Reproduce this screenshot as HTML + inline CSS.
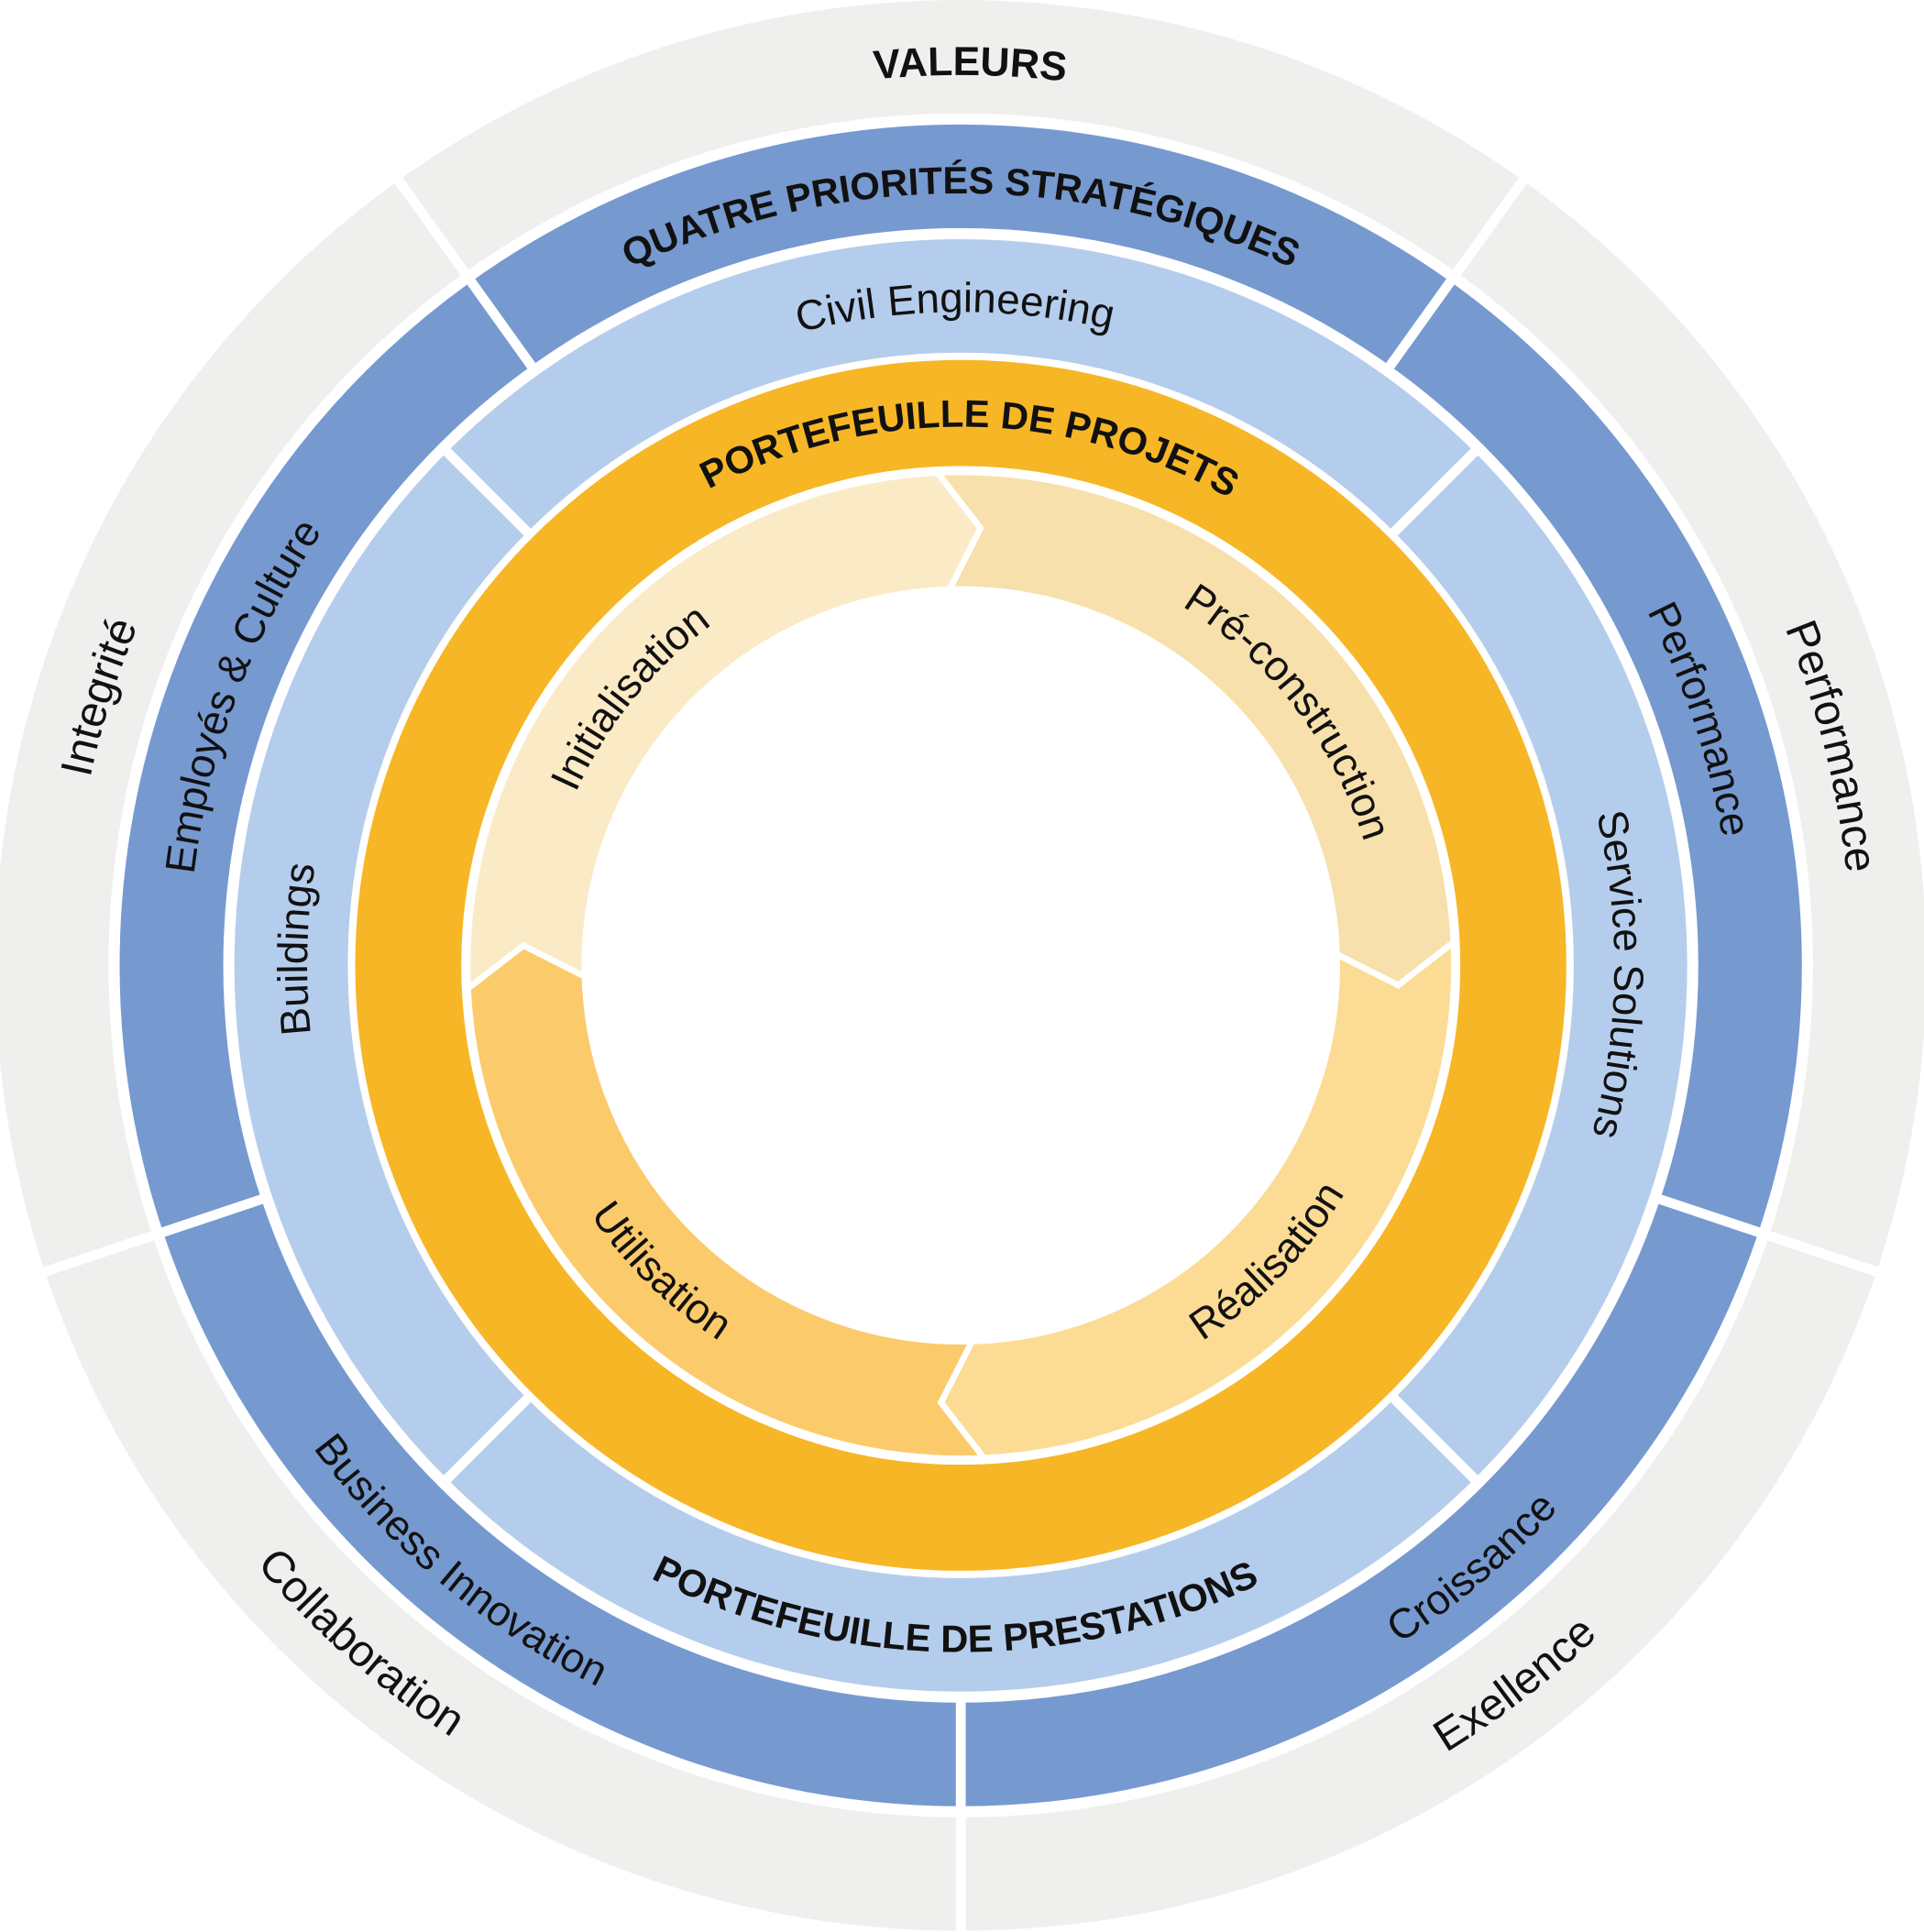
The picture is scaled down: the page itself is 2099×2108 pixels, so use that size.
<!DOCTYPE html>
<html><head><meta charset="utf-8"><style>
html,body{margin:0;padding:0;background:#fff}
svg{display:block}
text{font-family:"Liberation Sans",sans-serif;fill:#111}
.b{font-weight:bold;font-size:31px}
.r{font-size:34px}
</style></head><body>
<svg width="2099" height="2108" viewBox="0 0 1560 1567" preserveAspectRatio="none" xmlns="http://www.w3.org/2000/svg">
<defs>
<path id="t722" d="M100.5,536.1 A722 722 0 0 1 1457.5,536.1"/>
<path id="t626" d="M190.7,568.9 A626 626 0 0 1 1367.3,568.9"/>
<path id="t530" d="M281,601.7 A530 530 0 0 1 1277,601.7"/>
<path id="t437" d="M368.4,633.5 A437 437 0 0 1 1189.6,633.5"/>
<path id="t342" d="M457.6,666 A342 342 0 0 1 1100.4,666"/>
<path id="b750" d="M74.2,1039.5 A750 750 0 0 0 1483.8,1039.5"/>
<path id="b655" d="M163.5,1007 A655 655 0 0 0 1394.5,1007"/>
<path id="b557" d="M255.6,973.5 A557 557 0 0 0 1302.4,973.5"/>
<path id="b362" d="M438.8,906.8 A362 362 0 0 0 1119.2,906.8"/>
</defs>
<circle cx="779" cy="783" r="737" fill="none" stroke="#efefed" stroke-width="92"/>
<circle cx="779" cy="783" r="640" fill="none" stroke="#7699d0" stroke-width="84"/>
<circle cx="779" cy="783" r="543" fill="none" stroke="#b5cdec" stroke-width="92"/>
<circle cx="779" cy="783" r="448" fill="none" stroke="#f7b626" stroke-width="86"/>
<g stroke="#fff" stroke-width="8">
<line x1="779" y1="190" x2="779" y2="-10" transform="rotate(35.6 779 783)"/>
<line x1="779" y1="190" x2="779" y2="-10" transform="rotate(-35.6 779 783)"/>
<line x1="779" y1="190" x2="779" y2="-10" transform="rotate(108.5 779 783)"/>
<line x1="779" y1="190" x2="779" y2="-10" transform="rotate(251.5 779 783)"/>
<line x1="779" y1="190" x2="779" y2="-10" transform="rotate(180 779 783)"/>
<line x1="779" y1="290" x2="779" y2="190" transform="rotate(45 779 783)"/>
<line x1="779" y1="290" x2="779" y2="190" transform="rotate(135 779 783)"/>
<line x1="779" y1="290" x2="779" y2="190" transform="rotate(225 779 783)"/>
<line x1="779" y1="290" x2="779" y2="190" transform="rotate(315 779 783)"/>
</g>
<g stroke="#fff" stroke-width="5" stroke-linejoin="miter">
<path fill="#fbeac6" d="M379.4,801.8 A400 400 0 0 1 760.2,383.4 L795.1,428.4 L769.9,478.1 A305 305 0 0 0 474.1,792.1 L424.4,766.9 Z"/>
<path fill="#f7e0ab" d="M760.2,383.4 A400 400 0 0 1 1178.6,764.2 L1133.6,799.1 L1083.9,774 A305 305 0 0 0 769.9,478.1 L795.1,428.4 Z"/>
<path fill="#fcdb94" d="M1178.6,764.2 A400 400 0 0 1 797.8,1182.6 L762.9,1137.6 L788.1,1087.9 A305 305 0 0 0 1083.9,774 L1133.6,799.1 Z"/>
<path fill="#fbca6b" d="M797.8,1182.6 A400 400 0 0 1 379.4,801.8 L424.4,766.9 L474.1,792.1 A305 305 0 0 0 788.1,1087.9 L762.9,1137.6 Z"/>
</g>
<g text-anchor="middle">
<text class="b" style="font-size:33px" transform="rotate(0.6 779 783)"><textPath href="#t722" startOffset="50%">VALEURS</textPath></text>
<text class="r" style="font-size:36px" transform="rotate(287.3 779 783)"><textPath href="#t722" startOffset="50%">Integrité</textPath></text>
<text class="r" style="font-size:36px" transform="rotate(75.9 779 783)"><textPath href="#t722" startOffset="50%">Performance</textPath></text>
<text class="r" style="font-size:36px" transform="rotate(41.5 779 783)"><textPath href="#b750" startOffset="50%">Collaboration</textPath></text>
<text class="r" style="font-size:36px" transform="rotate(-37.6 779 783)"><textPath href="#b750" startOffset="50%">Exellence</textPath></text>
<text class="b" transform="rotate(0 779 783)"><textPath href="#t626" startOffset="50%">QUATRE PRIORITÉS STRATÉGIQUES</textPath></text>
<text class="r" transform="rotate(290.5 779 783)"><textPath href="#t626" startOffset="50%">Employés &amp; Culture</textPath></text>
<text class="r" transform="rotate(71.6 779 783)"><textPath href="#t626" startOffset="50%">Performance</textPath></text>
<text class="r" transform="rotate(40 779 783)"><textPath href="#b655" startOffset="50%">Business Innovation</textPath></text>
<text class="r" transform="rotate(-40.3 779 783)"><textPath href="#b655" startOffset="50%">Croissance</textPath></text>
<text class="r" transform="rotate(-0.5 779 783)"><textPath href="#t530" startOffset="50%">Civil Engineering</textPath></text>
<text class="r" transform="rotate(271.4 779 783)"><textPath href="#t530" startOffset="50%">Buildings</textPath></text>
<text class="r" transform="rotate(90.8 779 783)"><textPath href="#t530" startOffset="50%">Service Solutions</textPath></text>
<text class="b" transform="rotate(0.5 779 783)"><textPath href="#b557" startOffset="50%">PORTEFEUILLE DE PRESTATIONS</textPath></text>
<text class="b" transform="rotate(1 779 783)"><textPath href="#t437" startOffset="50%">PORTEFEUILLE DE PROJETS</textPath></text>
<text class="r" transform="rotate(309 779 783)"><textPath href="#t342" startOffset="50%">Initialisation</textPath></text>
<text class="r" transform="rotate(52.3 779 783)"><textPath href="#t342" startOffset="50%">Pré-construction</textPath></text>
<text class="r" transform="rotate(44.4 779 783)"><textPath href="#b362" startOffset="50%">Utilisation</textPath></text>
<text class="r" transform="rotate(-46 779 783)"><textPath href="#b362" startOffset="50%">Réalisation</textPath></text>
</g>
</svg>
</body></html>
